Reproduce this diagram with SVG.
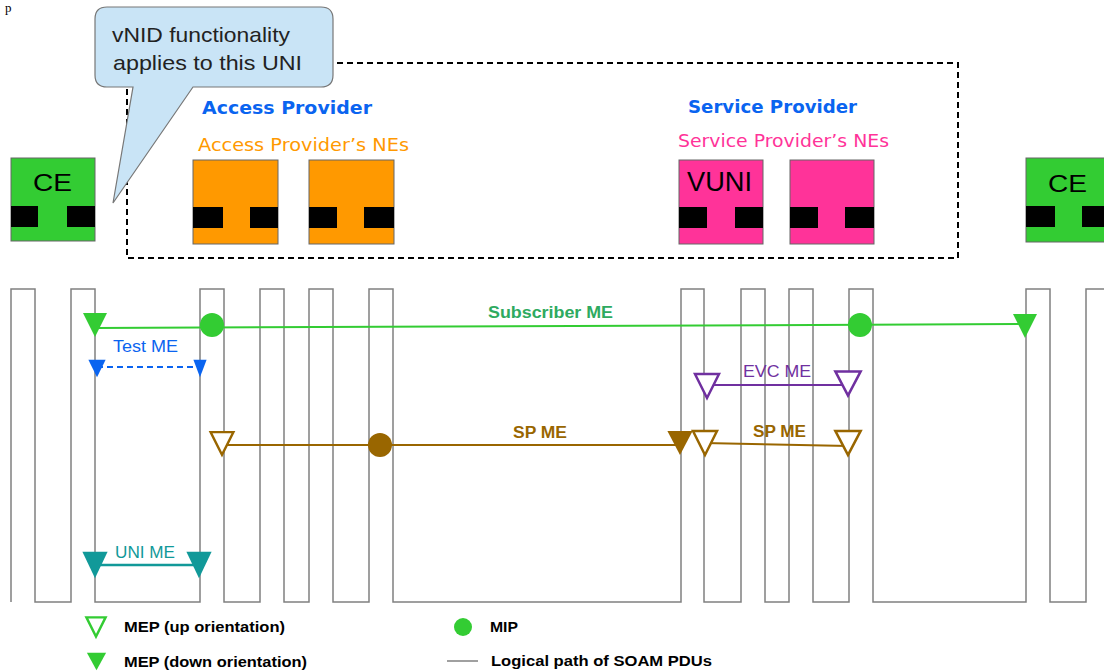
<svg xmlns="http://www.w3.org/2000/svg" width="1104" height="671" viewBox="0 0 1104 671">
  <style>
    .ne { stroke: #666; stroke-width: 1; }
    .port { fill: #000; }
    .ce { fill: #33cc33; }
    .ap { fill: #ff9900; }
    .sp { fill: #ff3399; }
    .nelabel { font-family: "Liberation Sans", Arial, sans-serif; fill: #000; }
    .prov { font-family: "DejaVu Sans", Verdana, sans-serif; font-size: 17px; }
    .me { font-family: "Liberation Sans", Arial, sans-serif; font-size: 16px; }
    .legend { font-family: "Liberation Sans", Arial, sans-serif; font-size: 14px; font-weight: bold; fill: #000; }
    .path { fill: none; stroke: #808080; stroke-width: 1.5; }
  </style>
  <defs>
    <path id="tri" d="M-12,-12 H12 L0,12 Z"/>
  </defs>
  <rect width="1104" height="671" fill="#fff"/>

  <!-- caption glyph at the top-left corner -->
  <text x="5" y="12" font-family="Liberation Serif, serif" font-size="13" fill="#000">p</text>

  <!-- logical path of SOAM PDUs through the NE ports -->
  <g id="connectors">
    <path class="path" d="M11,602 V289 H35 V602 H71 V289 H95 V602 H200 V289 H224 V602 H260 V289 H284 V602 H309 V289 H333 V602 H369 V289 H393 V602 H681 V289 H704 V602 H741 V289 H765 V602 H789 V289 H813 V602 H849 V289 H873 V602 H1026 V289 H1050 V602 H1086 V289 H1106"/>
  </g>

  <!-- provider domain boundary -->
  <g id="domain">
    <rect x="127" y="63" width="831" height="195" fill="none" stroke="#000" stroke-width="2" stroke-dasharray="6,4"/>
    <text class="prov" x="202" y="114" font-weight="bold" fill="#0a64f0" textLength="170" lengthAdjust="spacingAndGlyphs">Access Provider</text>
    <text class="prov" x="198" y="151" fill="#ff9900" textLength="211" lengthAdjust="spacingAndGlyphs">Access  Provider’s NEs</text>
    <text class="prov" x="688" y="113" font-weight="bold" fill="#0a64f0" textLength="169" lengthAdjust="spacingAndGlyphs">Service Provider</text>
    <text class="prov" x="678" y="147" fill="#ff3399" textLength="211" lengthAdjust="spacingAndGlyphs">Service Provider’s NEs</text>
  </g>

  <!-- callout -->
  <g id="callout">
    <path d="M107,7 H321 Q333,7 333,19 V75 Q333,87 321,87 H193 L113,203 L133,87 H107 Q95,87 95,75 V19 Q95,7 107,7 Z" fill="#c9e4f6" stroke="#777" stroke-width="1.2"/>
    <text x="112" y="42" font-family="Liberation Sans, Arial, sans-serif" font-size="21" fill="#222" textLength="178" lengthAdjust="spacingAndGlyphs">vNID  functionality</text>
    <text x="113" y="70" font-family="Liberation Sans, Arial, sans-serif" font-size="21" fill="#222" textLength="189" lengthAdjust="spacingAndGlyphs">applies to this UNI</text>
  </g>

  <!-- network elements -->
  <g id="ce-left">
    <rect class="ce ne" x="11" y="158" width="84" height="83"/>
    <rect class="port" x="11" y="206" width="27" height="21"/>
    <rect class="port" x="67" y="206" width="28" height="21"/>
    <text class="nelabel" x="33" y="191" font-size="24" textLength="39" lengthAdjust="spacingAndGlyphs">CE</text>
  </g>
  <g id="ap-ne-1">
    <rect class="ap ne" x="193" y="160" width="85" height="84"/>
    <rect class="port" x="193" y="207" width="30" height="21"/>
    <rect class="port" x="250" y="207" width="28" height="21"/>
  </g>
  <g id="ap-ne-2">
    <rect class="ap ne" x="309" y="160" width="85" height="84"/>
    <rect class="port" x="309" y="207" width="28" height="21"/>
    <rect class="port" x="364" y="207" width="30" height="21"/>
  </g>
  <g id="vuni">
    <rect class="sp ne" x="679" y="160" width="84" height="84"/>
    <rect class="port" x="679" y="207" width="28" height="21"/>
    <rect class="port" x="735" y="207" width="28" height="21"/>
    <text class="nelabel" x="687" y="191" font-size="27" textLength="65" lengthAdjust="spacingAndGlyphs">VUNI</text>
  </g>
  <g id="sp-ne-2">
    <rect class="sp ne" x="790" y="160" width="84" height="84"/>
    <rect class="port" x="790" y="207" width="28" height="21"/>
    <rect class="port" x="845" y="207" width="29" height="21"/>
  </g>
  <g id="ce-right">
    <rect class="ce ne" x="1026" y="158" width="84" height="84"/>
    <rect class="port" x="1026" y="206" width="29" height="21"/>
    <rect class="port" x="1082" y="206" width="28" height="21"/>
    <text class="nelabel" x="1048" y="192" font-size="24" textLength="39" lengthAdjust="spacingAndGlyphs">CE</text>
  </g>

  <!-- maintenance entities -->
  <g id="subscriber-me">
    <line x1="95" y1="328" x2="1026" y2="324" stroke="#33cc33" stroke-width="2"/>
    <use href="#tri" transform="translate(95,325)" fill="#33cc33"/>
    <use href="#tri" transform="translate(1025,326)" fill="#33cc33"/>
    <circle cx="212" cy="325" r="12" fill="#33cc33"/>
    <circle cx="860" cy="325" r="12" fill="#33cc33"/>
    <text class="me" x="488" y="318" font-weight="bold" fill="#2eaa60" textLength="125" lengthAdjust="spacingAndGlyphs">Subscriber ME</text>
  </g>
  <g id="test-me">
    <line x1="97" y1="367" x2="200" y2="367" stroke="#0a64f0" stroke-width="2" stroke-dasharray="6,4"/>
    <use href="#tri" transform="translate(97,368.5) scale(0.72)" fill="#0a64f0"/>
    <use href="#tri" transform="translate(200,368.5) scale(0.55,0.72)" fill="#0a64f0"/>
    <text class="me" x="113" y="352" fill="#0a64f0" textLength="65" lengthAdjust="spacingAndGlyphs">Test ME</text>
  </g>
  <g id="evc-me">
    <line x1="707" y1="385" x2="848" y2="385" stroke="#7030a0" stroke-width="2"/>
    <use href="#tri" transform="translate(707,386)" fill="#fff" stroke="#7030a0" stroke-width="2.5"/>
    <use href="#tri" transform="translate(848,383.5) scale(1.05,1)" fill="#fff" stroke="#7030a0" stroke-width="2.5"/>
    <text class="me" x="743" y="377" fill="#7030a0" textLength="68" lengthAdjust="spacingAndGlyphs">EVC ME</text>
  </g>
  <g id="sp-me-1">
    <line x1="222" y1="445" x2="681" y2="445" stroke="#996600" stroke-width="2"/>
    <use href="#tri" transform="translate(222,443.5) scale(0.95)" fill="#fff" stroke="#996600" stroke-width="2.5"/>
    <circle cx="380" cy="445" r="12" fill="#996600"/>
    <use href="#tri" transform="translate(680,443) scale(1.05,1)" fill="#996600"/>
    <text class="me" x="513" y="438" font-weight="bold" fill="#996600" textLength="54" lengthAdjust="spacingAndGlyphs">SP ME</text>
  </g>
  <g id="sp-me-2">
    <line x1="704" y1="443" x2="849" y2="446" stroke="#996600" stroke-width="2"/>
    <use href="#tri" transform="translate(705,443)" fill="#fff" stroke="#996600" stroke-width="2.5"/>
    <use href="#tri" transform="translate(848,443) scale(1.05,1)" fill="#fff" stroke="#996600" stroke-width="2.5"/>
    <text class="me" x="753" y="437" font-weight="bold" fill="#996600" textLength="53" lengthAdjust="spacingAndGlyphs">SP ME</text>
  </g>
  <g id="uni-me">
    <line x1="95" y1="565" x2="199" y2="565" stroke="#119999" stroke-width="2.5"/>
    <use href="#tri" transform="translate(95,565) scale(1.05,1.1)" fill="#119999"/>
    <use href="#tri" transform="translate(199,565) scale(1.05,1.1)" fill="#119999"/>
    <text class="me" x="115" y="558" fill="#119999" textLength="60" lengthAdjust="spacingAndGlyphs">UNI ME</text>
  </g>

  <!-- legend -->
  <g id="legend">
    <use href="#tri" transform="translate(96,627) scale(0.8)" fill="#fff" stroke="#33cc33" stroke-width="3"/>
    <text class="legend" x="124" y="632" textLength="161" lengthAdjust="spacingAndGlyphs">MEP (up orientation)</text>
    <use href="#tri" transform="translate(96.5,661.5) scale(0.8,0.72)" fill="#33cc33"/>
    <text class="legend" x="124" y="667" textLength="183" lengthAdjust="spacingAndGlyphs">MEP (down orientation)</text>
    <circle cx="463" cy="627" r="9" fill="#33cc33"/>
    <text class="legend" x="490" y="632" textLength="28" lengthAdjust="spacingAndGlyphs">MIP</text>
    <line x1="447" y1="661" x2="478" y2="661" stroke="#808080" stroke-width="1.5"/>
    <text class="legend" x="491" y="666" textLength="221" lengthAdjust="spacingAndGlyphs">Logical path of SOAM  PDUs</text>
  </g>
</svg>
